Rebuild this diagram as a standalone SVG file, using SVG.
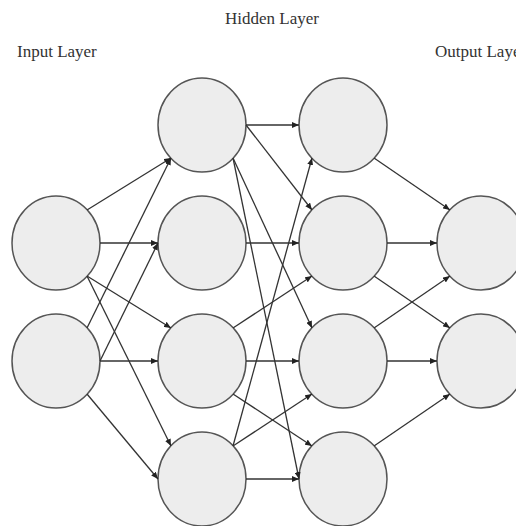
<svg xmlns="http://www.w3.org/2000/svg" width="516" height="526" viewBox="0 0 516 526">
<defs>
<style>
.lbl{font-family:"Liberation Serif","Times New Roman",serif;font-size:17px;fill:#333}
.node{fill:#ededed;stroke:#555;stroke-width:1.5}
.edge{stroke:#333;stroke-width:1.3;fill:none;marker-end:url(#arr)}
</style>
<marker id="arr" markerUnits="userSpaceOnUse" markerWidth="7" markerHeight="6" refX="7" refY="3" orient="auto">
<path d="M0,0 L7,3 L0,6 z" fill="#222"/>
</marker>
</defs>
<rect width="516" height="526" fill="#fff"/>
<text class="lbl" x="272" y="24" text-anchor="middle">Hidden Layer</text>
<text class="lbl" x="17" y="57">Input Layer</text>
<text class="lbl" x="435" y="57">Output Layer</text>
<g id="nodes">
<g id="i1"><ellipse class="node" cx="56" cy="243" rx="44" ry="47"/></g>
<g id="i2"><ellipse class="node" cx="56" cy="361" rx="44" ry="47"/></g>
<g id="h1a"><ellipse class="node" cx="202" cy="125" rx="44" ry="47"/></g>
<g id="h1b"><ellipse class="node" cx="202" cy="243" rx="44" ry="47"/></g>
<g id="h1c"><ellipse class="node" cx="202" cy="361" rx="44" ry="47"/></g>
<g id="h1d"><ellipse class="node" cx="202" cy="479" rx="44" ry="47"/></g>
<g id="h2a"><ellipse class="node" cx="343" cy="125" rx="44" ry="47"/></g>
<g id="h2b"><ellipse class="node" cx="343" cy="243" rx="44" ry="47"/></g>
<g id="h2c"><ellipse class="node" cx="343" cy="361" rx="44" ry="47"/></g>
<g id="h2d"><ellipse class="node" cx="343" cy="479" rx="44" ry="47"/></g>
<g id="o1"><ellipse class="node" cx="481" cy="243" rx="44" ry="47"/></g>
<g id="o2"><ellipse class="node" cx="481" cy="361" rx="44" ry="47"/></g>
</g>
<g id="connectors">
<line class="edge" x1="87" y1="210" x2="171" y2="158"/>
<line class="edge" x1="100" y1="243" x2="158" y2="243"/>
<line class="edge" x1="87" y1="276" x2="171" y2="328"/>
<line class="edge" x1="87" y1="276" x2="171" y2="446"/>
<line class="edge" x1="87" y1="328" x2="171" y2="158"/>
<line class="edge" x1="100" y1="361" x2="158" y2="243"/>
<line class="edge" x1="100" y1="361" x2="158" y2="361"/>
<line class="edge" x1="87" y1="394" x2="158" y2="479"/>
<line class="edge" x1="246" y1="125" x2="299" y2="125"/>
<line class="edge" x1="246" y1="125" x2="312" y2="210"/>
<line class="edge" x1="233" y1="158" x2="312" y2="328"/>
<line class="edge" x1="233" y1="158" x2="299" y2="479"/>
<line class="edge" x1="246" y1="243" x2="299" y2="243"/>
<line class="edge" x1="233" y1="328" x2="312" y2="276"/>
<line class="edge" x1="246" y1="361" x2="299" y2="361"/>
<line class="edge" x1="233" y1="394" x2="312" y2="446"/>
<line class="edge" x1="233" y1="446" x2="312" y2="158"/>
<line class="edge" x1="233" y1="446" x2="312" y2="394"/>
<line class="edge" x1="246" y1="479" x2="299" y2="479"/>
<line class="edge" x1="374" y1="158" x2="450" y2="210"/>
<line class="edge" x1="387" y1="243" x2="437" y2="243"/>
<line class="edge" x1="374" y1="276" x2="450" y2="328"/>
<line class="edge" x1="374" y1="328" x2="450" y2="276"/>
<line class="edge" x1="387" y1="361" x2="437" y2="361"/>
<line class="edge" x1="374" y1="446" x2="450" y2="394"/>
</g>
</svg>
